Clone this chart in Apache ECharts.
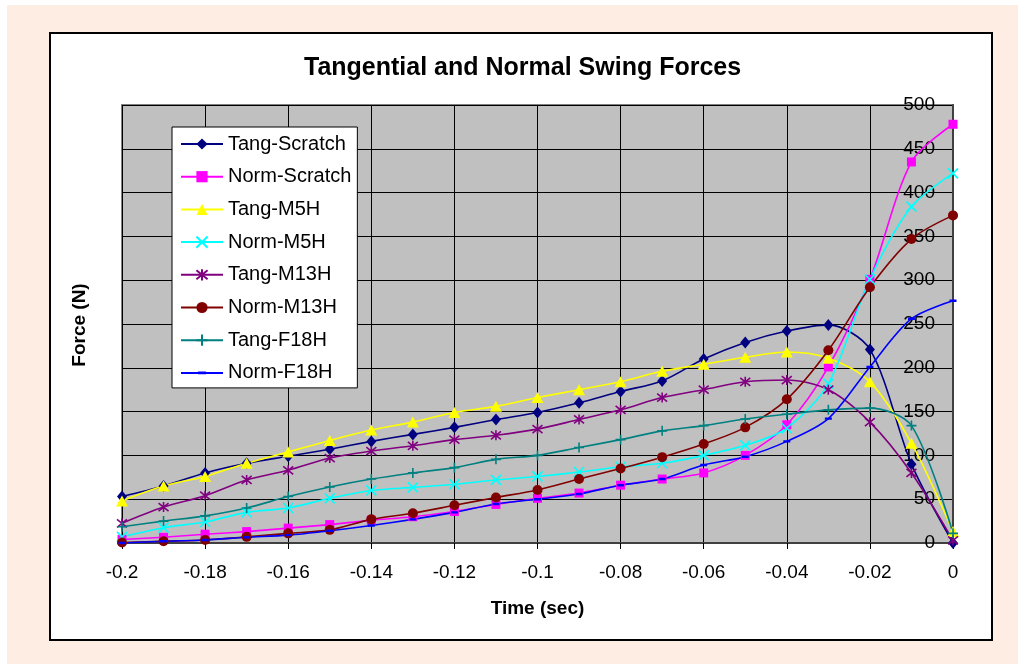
<!DOCTYPE html>
<html>
<head>
<meta charset="utf-8">
<script src="https://cdn.jsdelivr.net/npm/echarts@6/dist/echarts.min.js"></script>
<style>
html,body{margin:0;padding:0;background:#ffffff;}
#chart{width:1018px;height:664px;}
</style>
</head>
<body>
<div id="chart"></div>
<script>
const timeValues = [-0.2,-0.19,-0.18,-0.17,-0.16,-0.15,-0.14,-0.13,-0.12,-0.11,-0.1,-0.09,-0.08,-0.07,-0.06,-0.05,-0.04,-0.03,-0.02,-0.01,0];
const seriesNames = ['Tang-Scratch','Norm-Scratch','Tang-M5H','Norm-M5H','Tang-M13H','Norm-M13H','Tang-F18H','Norm-F18H'];
const tangScratch = [53,65,80,91,99,107,116,124,132,141,149,160,173,185,210,229,242,249,221,90,0];
const normScratch = [4,6.5,10,13,17,21,26,30,36,44,51,57,66,73,80,100,135,201,301,435,478];
const tangM5H = [48,65,76,91,104,117,129,138,149,156,166,175,184,196,204,212,218,211,184,114,13];
const normM5H = [7,17.5,24,35,40,51,60,63.5,67,72,76,81,87,91,100,111.5,131,182,301,384,422];
const tangM13H = [22.5,41,54,72,83,97,105,111,118,123,130,141,152,166,175,184,186,175,138,80,3];
const normM13H = [0.5,2,3.5,7,11,15,27,34,43,52,60.5,73,85,98,113,132,164,220,292,347,374];
const tangF18H = [18.6,25,31,40,53,64,73,80,86,95.5,100,109,118,128,134,141.5,147,152,154,134,11];
const normF18H = [0,2,3.5,6.5,9,14,20,27,35,44.5,50,56,66,73,89,98.5,116,142,201,256,276.5];
const yTicks = [0,50,100,150,200,250,300,350,400,450,500];

const allValues = [tangScratch,normScratch,tangM5H,normM5H,tangM13H,normM13H,tangF18H,normF18H];
const colors = ['#000080','#FF00FF','#FFFF00','#00FFFF','#800080','#800000','#008080','#0000FF'];
const symbols = [
  'diamond',
  'rect',
  'triangle',
  'path://M0 0 L10 10 M10 0 L0 10',
  'path://M5 0 L5 10 M1 1 L9 9 M9 1 L1 9',
  'circle',
  'path://M5 0 L5 10 M0 5 L10 5',
  'path://M0 0 L0.01 0 M1.5 3.8 L8.5 3.8 L8.5 6.2 L1.5 6.2 Z M9.99 10 L10 10'
];
const symbolSizes = [[10,12],9,[12,11],10,10,10,10,10];
const strokeSymbol = [false,false,false,true,true,false,true,false];

const chart = echarts.init(document.getElementById('chart'), null, {renderer:'canvas'});
const FONT = 'Liberation Sans, Arial, sans-serif';

const series = seriesNames.map((name, i) => ({
  name: name,
  type: 'line',
  smooth: 0.3,
  data: timeValues.map((t, j) => [t, allValues[i][j]]),
  symbol: symbols[i],
  symbolSize: symbolSizes[i],
  showSymbol: true,
  lineStyle: {color: colors[i], width: 1.6},
  itemStyle: strokeSymbol[i]
    ? {color: colors[i], borderColor: colors[i], borderWidth: 1.6}
    : {color: colors[i], borderWidth: 0},
  emphasis: {disabled: true},
  animation: false
}));

chart.setOption({
  animation: false,
  graphic: [
    {type:'rect', shape:{x:7,y:5,width:1011,height:659}, style:{fill:'#FDEDE3'}, z:-10, silent:true},
    {type:'rect', shape:{x:50,y:33,width:942,height:607}, style:{fill:'#ffffff', stroke:'#000000', lineWidth:2}, z:-9, silent:true},
    {type:'text', x:80, y:325, rotation:Math.PI/2, style:{text:'Force (N)', font:'bold 19px ' + FONT, fill:'#000', textAlign:'center', textVerticalAlign:'middle'}, z:10}
  ],
  title: {
    text: 'Tangential and Normal Swing Forces',
    left: 299, top: 51,
    textStyle: {fontFamily: FONT, fontWeight:'bold', fontSize: 25, color:'#000'}
  },
  legend: {
    orient: 'vertical',
    left: 172, top: 127,
    data: seriesNames,
    backgroundColor: '#ffffff',
    borderColor: '#000000',
    borderWidth: 1,
    padding: [7, 6, 5, 8],
    itemWidth: 42,
    itemHeight: 14,
    itemGap: 12.7,
    textStyle: {fontFamily: FONT, fontSize: 20, color:'#000'}
  },
  grid: {left:122, right:65, top:105, bottom:121, show:true, backgroundColor:'#C0C0C0', borderColor:'#808080', borderWidth:2},
  xAxis: {
    type: 'value', min: -0.2, max: 0, interval: 0.02,
    name: 'Time (sec)', nameLocation: 'middle', nameGap: 56,
    nameTextStyle: {fontFamily: FONT, fontWeight:'bold', fontSize: 19, color:'#000'},
    axisLine: {show:true, onZero:false, lineStyle:{color:'#404040', width:2}},
    axisTick: {show:true, length:6, lineStyle:{color:'#000'}},
    axisLabel: {fontFamily: FONT, fontSize: 19, color:'#000', margin: 20,
      formatter: v => String(+(+v).toFixed(2))},
    splitLine: {show:true, lineStyle:{color:'#000', width:1}}
  },
  yAxis: {
    type: 'value', position: 'right', min: 0, max: 500, interval: 50,
    axisLine: {show:true, lineStyle:{color:'#404040', width:2}},
    axisTick: {show:false},
    axisLabel: {inside:true, fontFamily: FONT, fontSize: 19, color:'#000', margin: 18,
      formatter: v => String(yTicks[Math.round(v/50)])},
    splitLine: {show:true, lineStyle:{color:'#000', width:1}}
  },
  series: series
});
</script>
</body>
</html>
